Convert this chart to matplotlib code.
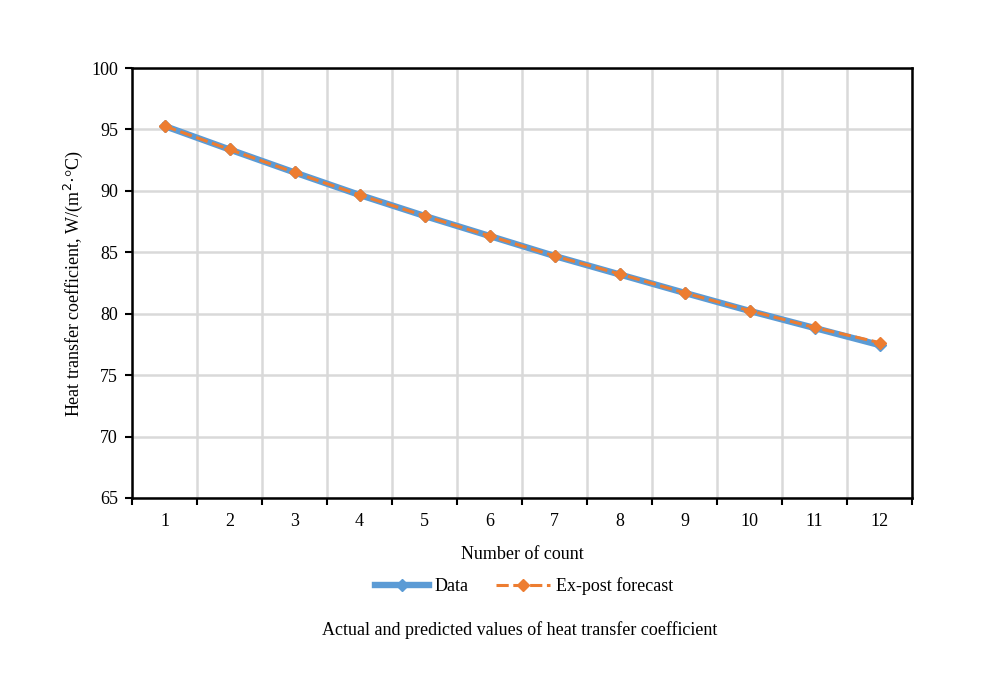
import matplotlib
matplotlib.use("Agg")
import matplotlib.pyplot as plt
import numpy as np

counts = [1, 2, 3, 4, 5, 6, 7, 8, 9, 10, 11, 12]
data_vals = [95.28, 93.37, 91.5, 89.67, 87.96, 86.33, 84.7, 83.2, 81.7, 80.23, 78.84, 77.45]
forecast_vals = [95.28, 93.37, 91.5, 89.67, 87.96, 86.33, 84.7, 83.24, 81.7, 80.25, 78.88, 77.65]
y_ticks = [65, 70, 75, 80, 85, 90, 95, 100]

plt.rcParams['font.family'] = ['Liberation Serif', 'DejaVu Serif']
plt.rcParams['font.size'] = 13

fig = plt.figure(figsize=(9.86, 6.96), dpi=100)
ax = fig.add_axes([132/986, 1-498/696, 780/986, 430/696])

x = np.arange(len(counts))
ax.plot(x, data_vals, color='#5B9BD5', lw=4.6, marker='D', ms=6.5,
        markerfacecolor='#5B9BD5', markeredgecolor='#5B9BD5', label='Data', zorder=3)
ax.plot(x, forecast_vals, color='#ED7D31', lw=2.2, ls=(0, (4, 1.5)), marker='D', ms=6.5,
        markerfacecolor='#ED7D31', markeredgecolor='#ED7D31', label='Ex-post forecast', zorder=4)

ax.set_xlim(-0.5, len(counts) - 0.5)
ax.set_ylim(65, 100)
ax.set_yticks(y_ticks)
ax.set_xticks(x)
ax.set_xticklabels([str(c) for c in counts])
ax.set_xticks(np.arange(-0.5, len(counts), 1.0), minor=True)
ax.tick_params(axis='x', which='major', length=0, pad=11, labelsize=13)
ax.tick_params(axis='x', which='minor', length=5, width=1.5, direction='out')
ax.tick_params(axis='y', length=5, width=1.5, direction='out', pad=5, labelsize=13)

ax.grid(True, which='minor', axis='x', color='#D9D9D9', lw=1.8)
ax.grid(True, which='major', axis='y', color='#D9D9D9', lw=1.8)
ax.set_axisbelow(True)
for s in ax.spines.values():
    s.set_linewidth(1.8)
    s.set_color('black')

ax.set_ylabel('Heat transfer coefficient, W/(m$^{2}$·°C)', fontsize=13, labelpad=4.5)
ax.set_xlabel('Number of count', fontsize=13, labelpad=11.5)

leg = fig.legend(loc='center', bbox_to_anchor=(524/986, 1-586/696), ncol=2, frameon=False,
                 fontsize=13, handlelength=3.0, columnspacing=1.5, handletextpad=0.3)
fig.text(520/986, 1-630/696, 'Actual and predicted values of heat transfer coefficient',
         ha='center', va='center', fontsize=13)

fig.savefig('out.png', dpi=100)
